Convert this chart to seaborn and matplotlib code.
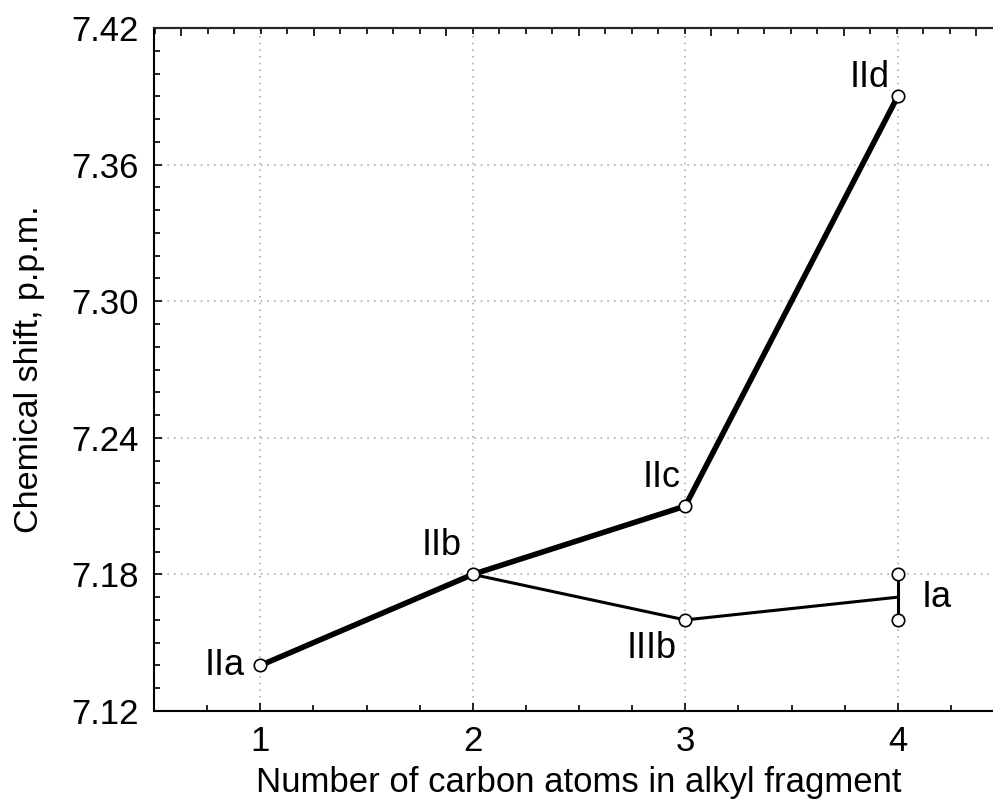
import matplotlib
matplotlib.use("Agg")
import matplotlib.pyplot as plt
from matplotlib.ticker import MultipleLocator
import seaborn as sns
import pandas as pd

# ---- data ----
thick_x = [1, 2, 3, 4]
thick_y = [7.14, 7.18, 7.21, 7.39]
thick_names = ["IIa", "IIb", "IIc", "IId"]

thin_x = [2, 3, 4]
thin_y = [7.18, 7.16, 7.17]

iiib_x = [3]
iiib_y = [7.16]

ia_x = 4
ia_low = 7.16
ia_high = 7.18

x_ticks = [1, 2, 3, 4]
y_ticks = [7.12, 7.18, 7.24, 7.30, 7.36, 7.42]
y_tick_labels = ["7.12", "7.18", "7.24", "7.30", "7.36", "7.42"]

sns.set_style("ticks")
plt.rcParams["font.family"] = ["Liberation Sans", "DejaVu Sans"]
plt.rcParams["text.color"] = "black"
plt.rcParams["axes.labelcolor"] = "black"
plt.rcParams["xtick.color"] = "black"
plt.rcParams["ytick.color"] = "black"

fig = plt.figure(figsize=(9.93, 7.99), dpi=100)
ax = fig.add_axes([154 / 993, 1 - 711 / 799, (1004 - 154) / 993, (711 - 28) / 799])

df_thick = pd.DataFrame({"x": thick_x, "y": thick_y})
df_thin = pd.DataFrame({"x": thin_x, "y": thin_y})

sns.lineplot(data=df_thin, x="x", y="y", ax=ax, color="black", lw=2.2, zorder=3)
sns.lineplot(data=df_thick, x="x", y="y", ax=ax, color="black", lw=4.0, zorder=4)

# error bar for Ia
ax.plot([ia_x, ia_x], [ia_low, ia_high], color="black", lw=2.2, zorder=3)

mk = dict(marker="o", s=80, facecolor="white", edgecolor="black", linewidth=1.2, zorder=6)
sns.scatterplot(x=thick_x, y=thick_y, ax=ax, **mk)
sns.scatterplot(x=iiib_x, y=iiib_y, ax=ax, **mk)
sns.scatterplot(x=[ia_x, ia_x], y=[ia_low, ia_high], ax=ax, **mk)

fs_lab = 26
ax.annotate("IIa", (thick_x[0], thick_y[0]), xytext=(-11, 0), textcoords="offset points",
            ha="right", va="center", fontsize=fs_lab)
ax.annotate("IIb", (thick_x[1], thick_y[1]), xytext=(-8, 8), textcoords="offset points",
            ha="right", va="bottom", fontsize=fs_lab)
ax.annotate("IIc", (thick_x[2], thick_y[2]), xytext=(-3, 8), textcoords="offset points",
            ha="right", va="bottom", fontsize=fs_lab)
ax.annotate("IId", (thick_x[3], thick_y[3]), xytext=(-6, 1), textcoords="offset points",
            ha="right", va="bottom", fontsize=fs_lab)
ax.annotate("IIIb", (iiib_x[0], iiib_y[0]), xytext=(-6, -8), textcoords="offset points",
            ha="right", va="top", fontsize=fs_lab)
ax.annotate("Ia", (ia_x, (ia_low + ia_high) / 2), xytext=(17, 0), textcoords="offset points",
            ha="left", va="center", fontsize=fs_lab)

ax.set_xlim(0.5, 4.5)
ax.set_ylim(7.12, 7.42)
ax.set_xticks(x_ticks)
ax.set_xticklabels([str(v) for v in x_ticks], fontsize=25)
ax.set_yticks(y_ticks)
ax.set_yticklabels(y_tick_labels, fontsize=25)
ax.xaxis.set_minor_locator(MultipleLocator(0.25))
ax.yaxis.set_minor_locator(MultipleLocator(0.01))
ax.tick_params(axis="both", which="major", direction="in", length=6, width=1.2, pad=10, colors="black")
ax.tick_params(axis="both", which="minor", direction="in", length=4, width=1.2)
ax.tick_params(axis="y", pad=11)
ax.grid(True, which="major", linestyle=(0, (1, 3)), color="#b0b0b0", lw=1.2)
ax.set_axisbelow(True)

ax.set_xlabel("Number of carbon atoms in alkyl fragment", fontsize=25, labelpad=6)
ax.set_ylabel("Chemical shift, p.p.m.", fontsize=24.5, labelpad=19)

for sp in ["left", "bottom", "top"]:
    ax.spines[sp].set_visible(True)
    ax.spines[sp].set_linewidth(1.5)
    ax.spines[sp].set_color("black")
ax.spines["right"].set_visible(False)

# top secondary axis ticks (unlabelled)
top = ax.twiny()
top.set_xlim(-27 / 132.5, (1004 - 154 - 27) / 132.5)
top.xaxis.set_major_locator(MultipleLocator(1))
top.xaxis.set_minor_locator(MultipleLocator(0.2))
top.tick_params(axis="x", which="major", direction="in", length=6, width=1.2, labeltop=False)
top.tick_params(axis="x", which="minor", direction="in", length=4, width=1.2)
for sp in ["left", "bottom", "right"]:
    top.spines[sp].set_visible(False)
top.spines["top"].set_linewidth(1.5)

fig.savefig("out.png", dpi=100)
